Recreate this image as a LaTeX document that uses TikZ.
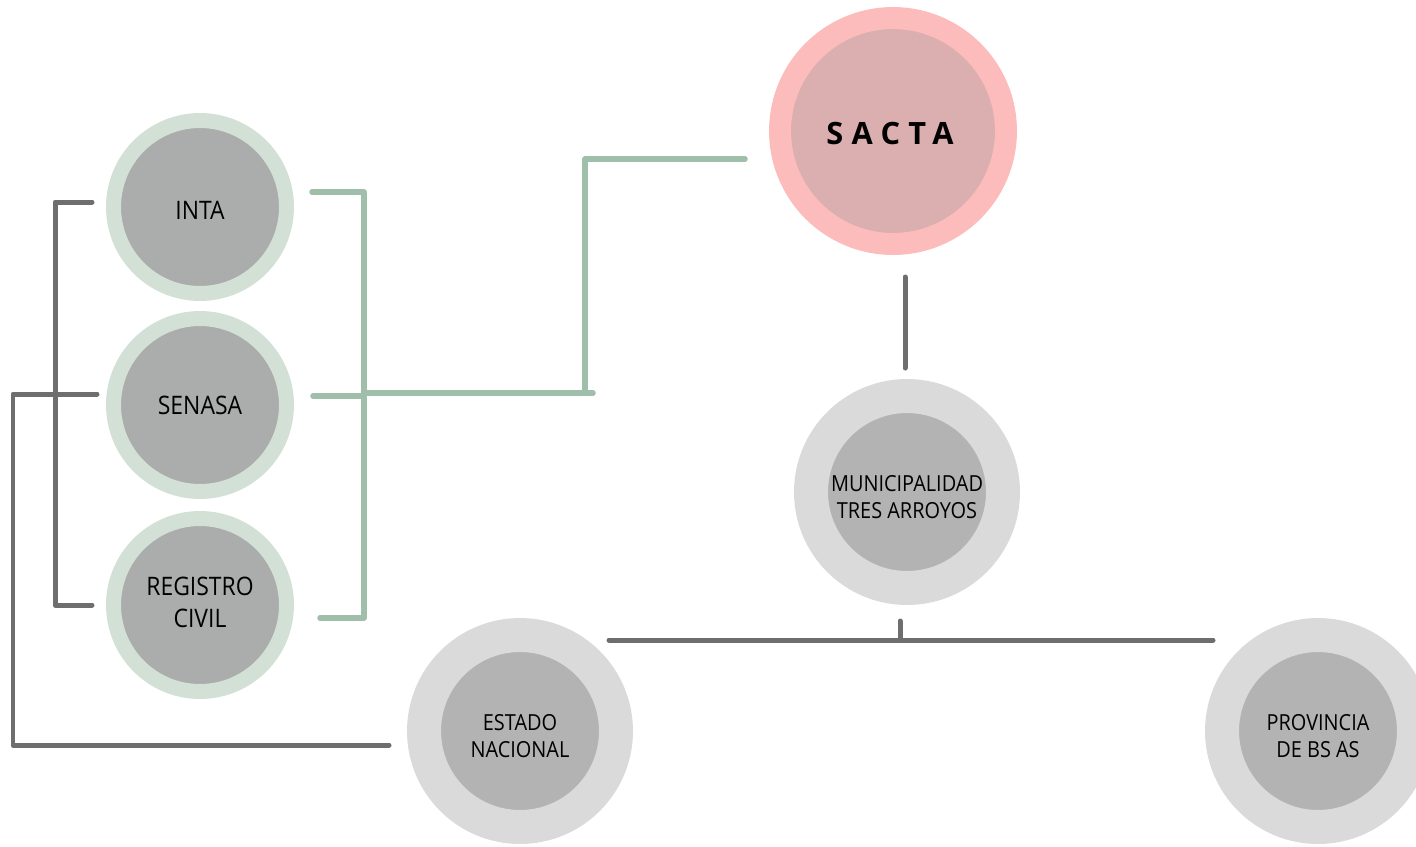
\documentclass[tikz,border=0pt]{standalone}
\usepackage{fontspec}
\setmainfont{Open Sans}
\newfontfamily\narrowfont[FakeStretch=0.9]{Open Sans}
\definecolor{ringgreen}{HTML}{D3E0D6}
\definecolor{innergreen}{HTML}{AAADAB}
\definecolor{ringpink}{HTML}{FDBCBC}
\definecolor{innerpink}{HTML}{DBAEAF}
\definecolor{ringgray}{HTML}{DADADA}
\definecolor{innergray}{HTML}{B3B3B3}
\definecolor{linegreen}{HTML}{A0BFAA}
\definecolor{linedark}{HTML}{6E6E6E}
\begin{document}
\begin{tikzpicture}[x=0.02cm,y=-0.02cm,
  org/.style={circle, inner sep=0pt},
  greenorg/.style={org, draw=ringgreen, fill=innergreen, line width=0.3cm, minimum size=3.46cm},
  pinkorg/.style={org, draw=ringpink, fill=innerpink, line width=0.44cm, minimum size=4.52cm},
  grayorg/.style={org, draw=ringgray, fill=innergray, line width=0.68cm, minimum size=3.84cm},
  gtext/.style={align=center, inner sep=0pt, text=black, font=\narrowfont\fontsize{14.5}{18.5}\selectfont},
  ptext/.style={align=center, inner sep=0pt, text=black,
    font=\bfseries\fontsize{17.5}{20}\selectfont\addfontfeatures{LetterSpace=27}},
  ytext/.style={align=center, inner sep=0pt, text=black, font=\narrowfont\fontsize{12.6}{15.4}\selectfont},
  glink/.style={draw=linegreen, line width=0.11cm, line cap=round, line join=round},
  dlink/.style={draw=linedark, line width=0.1cm, line cap=round, line join=round}]
\useasboundingbox (0,0) rectangle (1416,846);
% green connectors
\coordinate (gi) at (312,192);
\coordinate (gitop) at (364,192);
\coordinate (grbot) at (364,618);
\coordinate (gr) at (320,618);
\coordinate (gs) at (313,396);
\coordinate (gsj) at (364,396);
\coordinate (gmid) at (364,393);
\coordinate (gend) at (593,393);
\coordinate (gcorner) at (585,393);
\coordinate (gtop) at (585,159);
\coordinate (gsacta) at (745,159);
\draw[glink] (gi) -- (gitop) -- (grbot) -- (gr);
\draw[glink] (gs) -- (gsj);
\draw[glink] (gmid) -- (gend);
\draw[glink] (gcorner) -- (gtop) -- (gsacta);
% dark connectors
\coordinate (di) at (92,202);
\coordinate (ditl) at (55,202);
\coordinate (dibl) at (55,605);
\coordinate (dr) at (92,605);
\coordinate (ds) at (97,394);
\coordinate (dstl) at (13,394);
\coordinate (dsbl) at (13,745);
\coordinate (de) at (389,745);
\draw[dlink] (di) -- (ditl) -- (dibl) -- (dr);
\draw[dlink] (ds) -- (dstl) -- (dsbl) -- (de);
\coordinate (sm1) at (905,277);
\coordinate (sm2) at (905,368);
\draw[dlink] (sm1) -- (sm2);
\coordinate (busl) at (609,640);
\coordinate (busr) at (1213,640);
\coordinate (stubt) at (900,621);
\coordinate (stubb) at (900,640);
\draw[dlink] (busl) -- (busr);
\draw[dlink] (stubt) -- (stubb);
% nodes
\node[greenorg, label={[gtext, yshift=-0.06cm]center:INTA}] (inta) at (200,207) {};
\node[greenorg, label={[gtext]center:SENASA}] (senasa) at (200,405) {};
\node[greenorg, label={[gtext, yshift=0.05cm]center:REGISTRO\\CIVIL}] (registro) at (200,605) {};
\node[pinkorg, label={[ptext, yshift=-0.05cm, xshift=-0.06cm]center:SACTA}] (sacta) at (893,131) {};
\node[grayorg, label={[ytext, yshift=-0.11cm]center:MUNICIPALIDAD\\TRES ARROYOS}] (muni) at (907,492) {};
\node[grayorg, label={[ytext, yshift=-0.1cm]center:ESTADO\\NACIONAL}] (estado) at (520,731) {};
\node[grayorg, label={[ytext, yshift=-0.1cm]center:PROVINCIA\\DE BS AS}] (provincia) at (1318,731) {};
\end{tikzpicture}
\end{document}
